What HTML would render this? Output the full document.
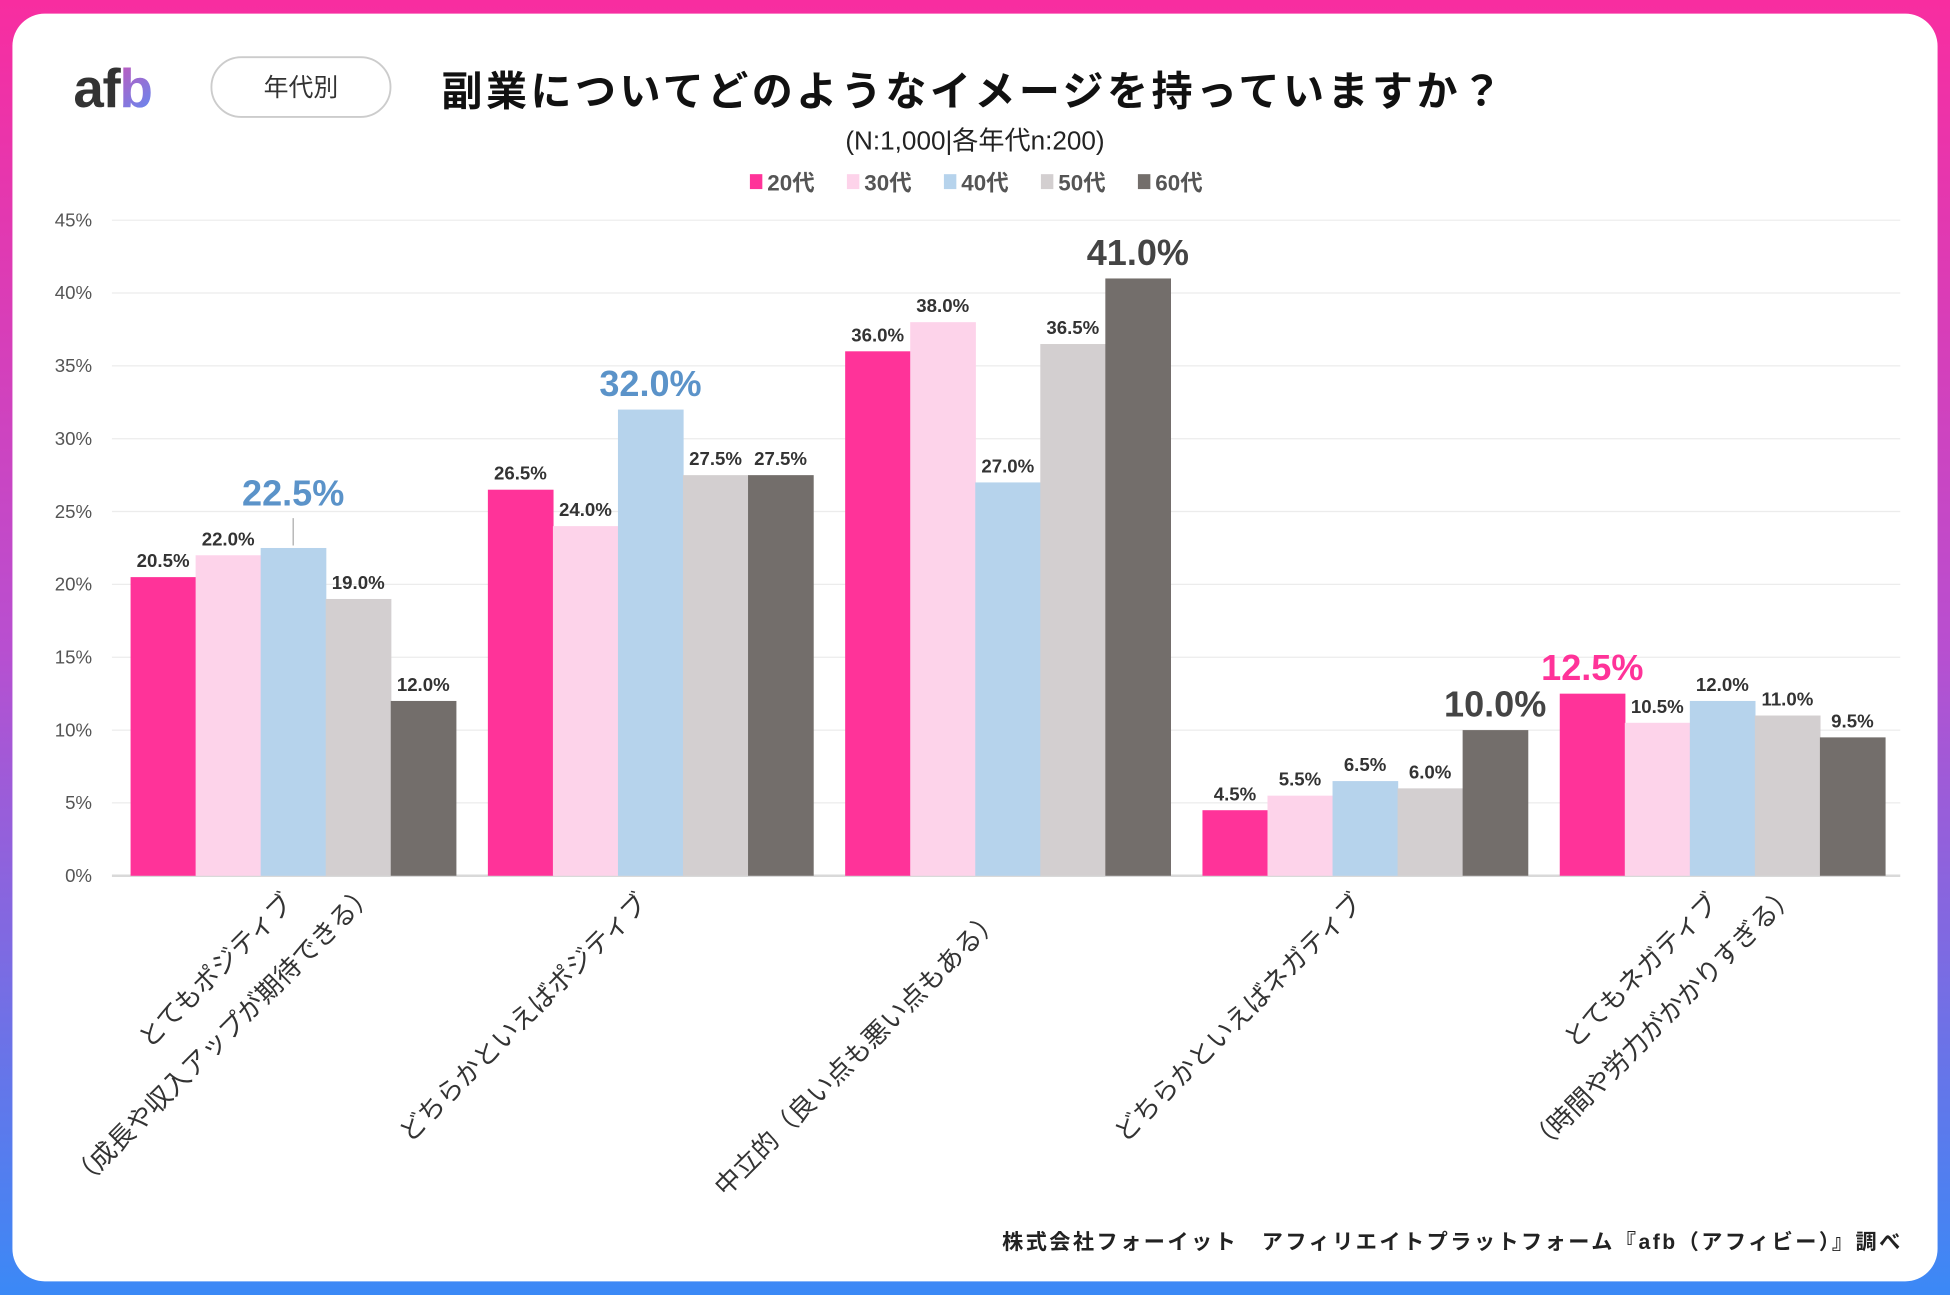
<!DOCTYPE html>
<html><head><meta charset="utf-8"><style>
html,body{margin:0;padding:0;width:1950px;height:1295px;overflow:hidden;background:#fff}
svg{display:block}
text{font-family:"Liberation Sans","Noto Sans CJK JP",sans-serif}
</style></head><body>
<svg id="chart" width="1950" height="1295" viewBox="0 0 1568 1041" preserveAspectRatio="none" xmlns="http://www.w3.org/2000/svg">
<defs><linearGradient id="fr" x1="0" y1="0" x2="0" y2="1"><stop offset="0" stop-color="#f82da0"/><stop offset="0.5" stop-color="#b84fd0"/><stop offset="1" stop-color="#3b89f6"/></linearGradient>
<linearGradient id="lb" x1="0" y1="0" x2="1" y2="1"><stop offset="0" stop-color="#f43fa0"/><stop offset="1" stop-color="#5b8df5"/></linearGradient></defs>
<rect x="0" y="0" width="1568" height="1041" fill="url(#fr)"/>
<rect x="10" y="11" width="1548" height="1019" rx="26" fill="#fff"/>
<text x="59" y="86" font-size="44" font-weight="bold" fill="#333" letter-spacing="-1">af<tspan fill="url(#lb)">b</tspan></text>
<rect x="170" y="46" width="144" height="48" rx="24" fill="#fff" stroke="#ccc" stroke-width="1.5"/>
<text x="242" y="77" font-size="20" fill="#333" text-anchor="middle">年代別</text>
<text x="355" y="85" font-size="33" font-weight="bold" fill="#111" letter-spacing="2.8">副業についてどのようなイメージを持っていますか？</text>
<text x="784" y="120" font-size="21" fill="#222" text-anchor="middle">(N:1,000|各年代n:200)</text>
<g id="legend"></g>
<g id="grid"></g><g id="bars"></g><g id="labels"></g><g id="cats"></g>
<text x="1530" y="1004" font-size="17" font-weight="bold" fill="#222" text-anchor="end" letter-spacing="2">株式会社フォーイット　アフィリエイトプラットフォーム『afb（アフィビー）』調べ</text>
</svg>
<script>
const categories=[["とてもポジティブ","（成長や収入アップが期待できる）"],["どちらかといえばポジティブ"],["中立的（良い点も悪い点もある）"],["どちらかといえばネガティブ"],["とてもネガティブ","（時間や労力がかかりすぎる）"]];
const seriesNames=["20代","30代","40代","50代","60代"];
const s20=[20.5,26.5,36.0,4.5,12.5];
const s30=[22.0,24.0,38.0,5.5,10.5];
const s40=[22.5,32.0,27.0,6.5,12.0];
const s50=[19.0,27.5,36.5,6.0,11.0];
const s60=[12.0,27.5,41.0,10.0,9.5];
const yTicks=[0,5,10,15,20,25,30,35,40,45];
const highlights=[[0,2],[1,2],[2,4],[3,4],[4,0]];
const series=[s20,s30,s40,s50,s60];
const colors=["#ff3399","#fdd3ea","#b6d3ec","#d3cfd0","#736e6b"];
const hiColors=["#ff3399","#333","#5b93c9","#333","#444"];
const NS="http://www.w3.org/2000/svg";
const y0=704,y45=177,xL=90,xR=1528;
const yS=v=>y0-(v/45)*(y0-y45);
const gStart=105,gStep=287.3,bw=52.3;
const xS=(g,s)=>gStart+g*gStep+s*bw;
function mk(tag,attrs,parent,txt){const e=document.createElementNS(NS,tag);for(const k in attrs)e.setAttribute(k,attrs[k]);if(txt!=null)e.textContent=txt;document.getElementById(parent).appendChild(e);return e;}
yTicks.forEach(t=>{
 const l=mk('line',{x1:xL,x2:xR,y1:yS(t),y2:yS(t),stroke:t===0?'#d9d9d9':'#ececec','stroke-width':t===0?2:1},'grid');
 
 
 const tx=mk('text',{x:74,y:yS(t)+5,'font-size':15,fill:'#555','text-anchor':'end'},'grid',t+'%');
 
 
});
series.forEach((arr,s)=>{arr.forEach((v,g)=>{
 const r=mk('rect',{x:xS(g,s),y:yS(v),width:bw+0.5,height:y0-yS(v),fill:colors[s]},'bars');
 
 
 const hi=highlights.some(h=>h[0]===g&&h[1]===s);
 const cx=xS(g,s)+bw/2;
 let t;
 if(hi){
  const off=(g===0)?34:11;
  t=mk('text',{x:cx,y:yS(v)-off,'font-size':29,'font-weight':'bold',fill:hiColors[s],'text-anchor':'middle'},'labels',v.toFixed(1)+'%');
  if(g===0){const ln=mk('line',{x1:cx,x2:cx,y1:yS(v)-2,y2:yS(v)-24,stroke:'#aaa'},'labels');}
 } else {
  t=mk('text',{x:cx,y:yS(v)-8,'font-size':15,'font-weight':'bold',fill:'#333','text-anchor':'middle'},'labels',v.toFixed(1)+'%');
 }
 
 
});});
seriesNames.forEach((n,i)=>{
 const x=603+i*78;
 const r=mk('rect',{x:x,y:140,width:10,height:12,fill:colors[i]},'legend');
 
 
 const t=mk('text',{x:x+14,y:153,'font-size':18,'font-weight':'bold',fill:'#555'},'legend',n);
 
 
});
const catEnds=[[[237,727],[303,719]],[[522,727]],[[806,740]],[[1097,727]],[[1383,727],[1446,720]]];
categories.forEach((lines,g)=>{
 lines.forEach((ln,i)=>{
  const [x,y]=catEnds[g][i];
  const t=mk('text',{x:0,y:0,transform:`translate(${x},${y}) rotate(-45)`,'font-size':21,fill:'#333','text-anchor':'end'},'cats',ln);
  
  
 });
});
</script>
</body></html>
